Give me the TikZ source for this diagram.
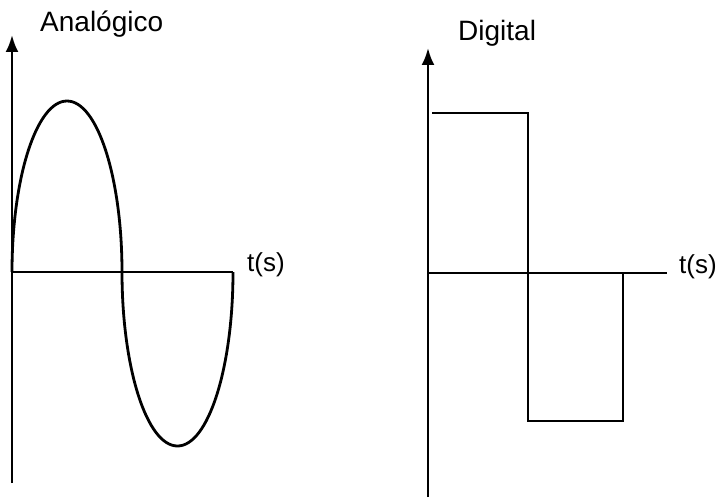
\documentclass[tikz,border=0pt]{standalone}
\usepackage{fontspec}
\setmainfont{Liberation Sans}
\usetikzlibrary{arrows.meta}
\begin{document}
\begin{tikzpicture}[x=1pt,y=1pt,
  axis/.style={line width=2.6pt,-{Latex[length=17pt,width=13pt]}},
  plain/.style={line width=2.4pt},
  wave/.style={line width=2.8pt,line join=miter},
  title/.style={anchor=base west,inner sep=0pt,font=\fontsize{28}{30}\selectfont},
  tlabel/.style={anchor=base west,inner sep=0pt,font=\fontsize{26}{28}\selectfont}]
\useasboundingbox (0,0) rectangle (717,499);
% left graph
\coordinate (lb) at (12,16);
\coordinate (lt) at (12,464);
\coordinate (lo) at (12,227);
\coordinate (le) at (233,227);
\draw[axis] (lb) -- (lt);
\draw[plain] (lo) -- (le);
\draw[wave] (lo) arc[start angle=180,end angle=0,x radius=55,y radius=171]
  arc[start angle=180,end angle=360,x radius=55.5,y radius=174];
\node[title] (ta) at (40,467) {Analógico};
\node[tlabel] (tla) at (247,228) {t(s)};
% right graph
\coordinate (rb) at (428,2);
\coordinate (rt) at (428,451);
\coordinate (ro) at (428,226);
\coordinate (re) at (667,226);
\coordinate (d1) at (432,386);
\coordinate (d2) at (528,386);
\coordinate (d3) at (528,78);
\coordinate (d4) at (623,78);
\coordinate (d5) at (623,226);
\draw[axis] (rb) -- (rt);
\draw[plain] (ro) -- (re);
\draw[wave] (d1) -- (d2) -- (d3) -- (d4) -- (d5);
\node[title] (td) at (458,458) {Digital};
\node[tlabel] (tld) at (679,226) {t(s)};
\end{tikzpicture}
\end{document}
